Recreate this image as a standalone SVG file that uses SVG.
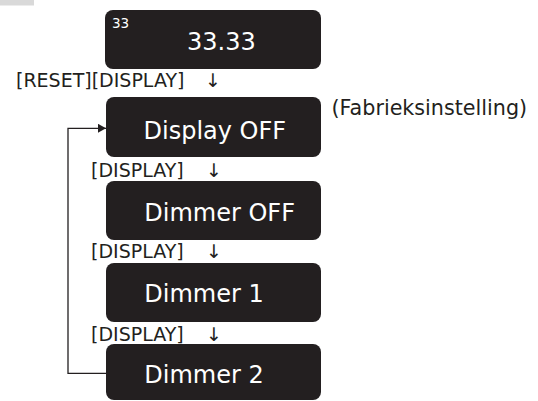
<svg xmlns="http://www.w3.org/2000/svg" width="538" height="401" viewBox="0 0 538 401">
<style>
.box{fill:#231f20}
.bt{font-family:"DejaVu Sans",sans-serif;font-size:24px;fill:#ffffff}
.lb{font-family:"DejaVu Sans",sans-serif;font-size:19px;fill:#231f20}
.conn{fill:none;stroke:#231f20;stroke-width:1.3}
</style>
<defs>
<marker id="ah" markerWidth="9" markerHeight="9" refX="8" refY="4.5" orient="auto" markerUnits="userSpaceOnUse">
<path d="M0,0 L8,4.5 L0,9 Z" fill="#231f20"/>
</marker>
</defs>
<rect x="0" y="0" width="34" height="5.5" fill="#d9d9d9"/>
<g id="node-display-value">
<rect class="box" x="105" y="10" width="216" height="59" rx="8"/>
<text x="112" y="28" font-family="DejaVu Sans, sans-serif" font-size="13.5" fill="#ffffff">33</text>
<text class="bt" x="187" y="50">33.33</text>
</g>
<g id="node-display-off">
<rect class="box" x="106" y="97" width="215" height="60" rx="8"/>
<text class="bt" x="143.5" y="138.5">Display OFF</text>
</g>
<g id="node-dimmer-off">
<rect class="box" x="106" y="181" width="215" height="59" rx="8"/>
<text class="bt" x="144.3" y="220.7">Dimmer OFF</text>
</g>
<g id="node-dimmer-1">
<rect class="box" x="106" y="263" width="215" height="59" rx="8"/>
<text class="bt" x="144.3" y="302.3">Dimmer 1</text>
</g>
<g id="node-dimmer-2">
<rect class="box" x="106" y="344" width="215" height="56" rx="8"/>
<text class="bt" x="144.3" y="383.3">Dimmer 2</text>
</g>
<g id="labels">
<text class="lb" x="16" y="87">[RESET][DISPLAY]</text>
<text class="lb" x="205" y="87">↓</text>
<text class="lb" x="91" y="177">[DISPLAY]</text>
<text class="lb" x="206" y="177">↓</text>
<text class="lb" x="91" y="258">[DISPLAY]</text>
<text class="lb" x="206" y="258">↓</text>
<text class="lb" x="91" y="340.5">[DISPLAY]</text>
<text class="lb" x="206" y="340.5">↓</text>
<text x="331.5" y="114.5" font-family="DejaVu Sans, sans-serif" font-size="20.7" fill="#231f20">(Fabrieksinstelling)</text>
</g>
<g id="connectors">
<path class="conn" d="M106,373.3 H68 V128.3 H106" marker-end="url(#ah)"/>
</g>
</svg>
